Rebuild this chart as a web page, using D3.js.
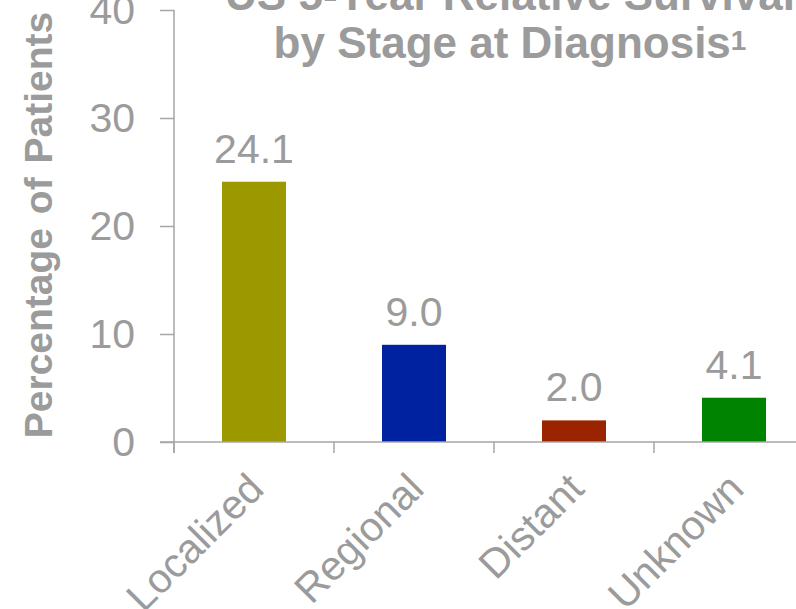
<!DOCTYPE html>
<html>
<head>
<meta charset="utf-8">
<script src="https://cdn.jsdelivr.net/npm/d3@7"></script>
<style>
  html, body { margin: 0; padding: 0; background: #ffffff; }
  svg { display: block; }
  text { font-family: "Liberation Sans", Arial, sans-serif; }
</style>
</head>
<body>
<script>
// Stage categories and 5-year relative survival (%)
const stages = ["Localized", "Regional", "Distant", "Unknown"];
const survival = [24.1, 9.0, 2.0, 4.1];
const barColors = ["#9c9900", "#0021a0", "#9a2400", "#008300"];
const yTicks = [0, 10, 20, 30, 40];
const titleLines = ["US 5-Year Relative Survival", "by Stage at Diagnosis"];
const titleNote = "1";
const yTitle = "Percentage of Patients";

const W = 796, H = 609;
const gray = "#9b9b9b";
const axisGray = "#a6a6a6";

const svg = d3.select("body").append("svg")
  .attr("width", W).attr("height", H);

const x0 = 174, x1 = 814, yBase = 442, yTop = 10;

// band scale for category slots (boundaries carry tick marks)
const xSlot = d3.scaleBand().domain(stages).range([x0, x1]).padding(0);
// narrower band scale for the bars themselves
const xBar = d3.scaleBand().domain(stages).range([x0, x1])
  .paddingInner(0.6).paddingOuter(0.3);
const y = d3.scaleLinear().domain([0, 40]).range([yBase, yTop]);

// bars
svg.append("g").selectAll("rect")
  .data(stages)
  .join("rect")
  .attr("x", d => xBar(d))
  .attr("width", xBar.bandwidth())
  .attr("y", (d, i) => y(survival[i]))
  .attr("height", (d, i) => y(0) - y(survival[i]))
  .attr("fill", (d, i) => barColors[i]);

// value labels
svg.append("g").selectAll("text")
  .data(stages)
  .join("text")
  .attr("x", d => xBar(d) + xBar.bandwidth() / 2)
  .attr("y", (d, i) => y(survival[i]) - 19)
  .attr("text-anchor", "middle")
  .attr("font-size", 41)
  .attr("fill", gray)
  .text((d, i) => survival[i].toFixed(1));

// y axis
const yAxis = svg.append("g")
  .attr("transform", `translate(${x0},0)`)
  .call(d3.axisLeft(y).tickValues(yTicks).tickSize(14).tickPadding(25).tickFormat(d3.format("d")));
yAxis.select(".domain").attr("stroke", axisGray).attr("stroke-width", 1.5)
  .attr("d", `M0,${yTop}V${yBase + 11}`);
yAxis.selectAll(".tick line").attr("stroke", axisGray).attr("stroke-width", 1.5);
yAxis.selectAll(".tick text").attr("fill", gray).attr("font-size", 41)
  .attr("font-family", "Liberation Sans, Arial, sans-serif");

// x axis baseline with ticks on slot boundaries
const xAxis = svg.append("g");
xAxis.append("line")
  .attr("x1", x0 - 14).attr("x2", W)
  .attr("y1", y(0)).attr("y2", y(0))
  .attr("stroke", axisGray).attr("stroke-width", 1.5);
xAxis.selectAll("line.bt")
  .data(stages)
  .join("line")
  .attr("class", "bt")
  .attr("x1", d => xSlot(d)).attr("x2", d => xSlot(d))
  .attr("y1", y(0)).attr("y2", y(0) + 11)
  .attr("stroke", axisGray).attr("stroke-width", 1.5);

// rotated category labels
xAxis.selectAll("text")
  .data(stages)
  .join("text")
  .attr("transform", d => `translate(${xSlot(d) + xSlot.bandwidth() / 2 + 12},491) rotate(-45)`)
  .attr("text-anchor", "end")
  .attr("font-size", 41)
  .attr("fill", gray)
  .text(d => d);

// y axis title
svg.append("text")
  .attr("transform", "translate(52,225) rotate(-90)")
  .attr("text-anchor", "middle")
  .attr("font-size", 39)
  .attr("font-weight", "bold")
  .attr("word-spacing", 3)
  .attr("fill", gray)
  .text(yTitle);

// chart title
const title = svg.append("text")
  .attr("text-anchor", "middle")
  .attr("font-size", 44)
  .attr("font-weight", "bold")
  .attr("fill", gray);
title.append("tspan").attr("x", 510).attr("y", 10).text(titleLines[0]);
title.append("tspan").attr("x", 510).attr("y", 58).text(titleLines[1]);
title.append("tspan").attr("font-size", 28).attr("dy", -8).text(titleNote);
</script>
</body>
</html>
